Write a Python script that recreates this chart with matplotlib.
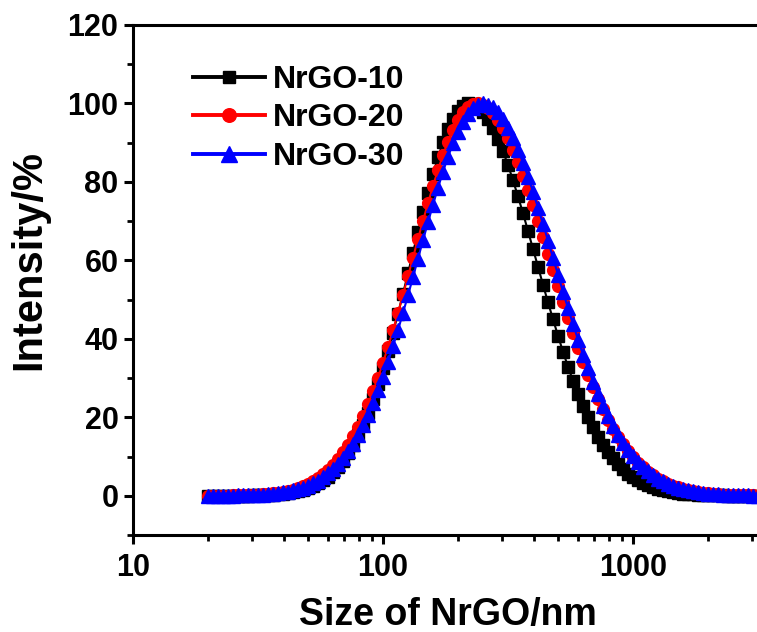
import matplotlib.pyplot as plt

# particle size (nm), same grid for all three samples
size_nm = [19.95, 20.89, 21.88, 22.91, 23.99, 25.12, 26.30, 27.54, 28.84, 30.20,
           31.62, 33.11, 34.67, 36.31, 38.02, 39.81, 41.69, 43.65, 45.71, 47.86,
           50.12, 52.48, 54.95, 57.54, 60.26, 63.10, 66.07, 69.18, 72.44, 75.86,
           79.43, 83.18, 87.10, 91.20, 95.50,
           100.0, 104.7, 109.6, 114.8, 120.2, 125.9, 131.8, 138.0, 144.5, 151.4,
           158.5, 166.0, 173.8, 182.0, 190.6, 199.5, 208.9, 218.8, 229.1, 239.9,
           251.2, 263.0, 275.4, 288.4, 302.0, 316.2, 331.1, 346.7, 363.1, 380.2,
           398.1, 416.9, 436.5, 457.1, 478.6, 501.2, 524.8, 549.5, 575.4, 602.6,
           631.0, 660.7, 691.8, 724.4, 758.6, 794.3, 831.8, 871.0, 912.0, 955.0,
           1000, 1047, 1096, 1148, 1202, 1259, 1318, 1380, 1445, 1514,
           1585, 1660, 1738, 1820, 1905, 1995, 2089, 2188, 2291, 2399,
           2512, 2630, 2754, 2884, 3020, 3162]

nrgo10 = [0.0, 0.0, 0.0, 0.01, 0.02, 0.02, 0.03, 0.04, 0.06, 0.08,
          0.12, 0.16, 0.22, 0.30, 0.40, 0.53, 0.70, 0.91, 1.19, 1.53,
          1.96, 2.49, 3.15, 3.94, 4.89, 6.04, 7.39, 8.98, 10.8, 12.9,
          15.4, 18.1, 21.2, 24.6, 28.4,
          32.5, 36.9, 41.5, 46.4, 51.5, 56.7, 62.0, 67.2, 72.4, 77.3,
          82.0, 86.3, 90.1, 93.4, 96.1, 98.1, 99.4, 100.0, 99.8, 99.1,
          97.9, 96.1, 93.8, 91.0, 87.8, 84.3, 80.4, 76.3, 72.0, 67.5,
          62.9, 58.4, 53.8, 49.3, 45.0, 40.8, 36.7, 32.9, 29.3, 26.0,
          22.9, 20.1, 17.5, 15.1, 13.0, 11.2, 9.50, 8.04, 6.77, 5.67,
          4.71, 3.90, 3.21, 2.63, 2.14, 1.73, 1.39, 1.11, 0.88, 0.70,
          0.55, 0.43, 0.33, 0.26, 0.20, 0.15, 0.12, 0.09, 0.07, 0.05,
          0.04, 0.03, 0.02, 0.02, 0.01, 0.01]

nrgo20 = [0.01, 0.02, 0.03, 0.04, 0.05, 0.07, 0.09, 0.12, 0.16, 0.21,
          0.28, 0.36, 0.47, 0.61, 0.78, 0.99, 1.25, 1.57, 1.96, 2.44,
          3.01, 3.69, 4.50, 5.46, 6.57, 7.87, 9.36, 11.1, 13.0, 15.2,
          17.6, 20.4, 23.3, 26.6, 30.1,
          33.9, 37.9, 42.2, 46.6, 51.2, 55.9, 60.7, 65.4, 70.1, 74.6,
          79.0, 83.1, 86.9, 90.3, 93.3, 95.8, 97.7, 99.1, 99.8, 100.0,
          99.6, 98.8, 97.5, 95.8, 93.7, 91.1, 88.2, 85.1, 81.6, 77.9,
          74.0, 70.0, 65.9, 61.7, 57.5, 53.4, 49.3, 45.3, 41.4, 37.7,
          34.2, 30.8, 27.7, 24.7, 22.0, 19.4, 17.1, 15.0, 13.1, 11.3,
          9.80, 8.43, 7.21, 6.14, 5.21, 4.39, 3.69, 3.08, 2.56, 2.12,
          1.75, 1.43, 1.17, 0.95, 0.77, 0.62, 0.49, 0.39, 0.31, 0.25,
          0.19, 0.15, 0.12, 0.09, 0.07, 0.05]

nrgo30 = [0.01, 0.02, 0.02, 0.03, 0.04, 0.06, 0.08, 0.10, 0.14, 0.18,
          0.24, 0.31, 0.40, 0.52, 0.67, 0.85, 1.07, 1.35, 1.69, 2.10,
          2.59, 3.18, 3.89, 4.72, 5.70, 6.83, 8.15, 9.66, 11.4, 13.3,
          15.5, 18.0, 20.7, 23.6, 26.9,
          30.3, 34.1, 38.1, 42.2, 46.6, 51.1, 55.7, 60.4, 65.1, 69.7,
          74.2, 78.5, 82.6, 86.4, 89.8, 92.8, 95.3, 97.4, 98.8, 99.7,
          100.0, 99.7, 99.0, 97.7, 96.0, 93.8, 91.2, 88.2, 84.9, 81.3,
          77.5, 73.4, 69.3, 65.0, 60.7, 56.3, 52.0, 47.8, 43.8, 39.8,
          36.0, 32.5, 29.1, 25.9, 23.0, 20.3, 17.8, 15.6, 13.5, 11.7,
          10.1, 8.62, 7.34, 6.22, 5.24, 4.39, 3.67, 3.04, 2.51, 2.06,
          1.69, 1.37, 1.11, 0.89, 0.72, 0.57, 0.45, 0.36, 0.28, 0.22,
          0.17, 0.13, 0.10, 0.08, 0.06, 0.04]

plt.rcParams['font.family'] = 'Liberation Sans'
plt.rcParams['font.weight'] = 'bold'

fig = plt.figure(figsize=(7.57, 6.32), dpi=100)
ax = fig.add_axes([133/757, (632-535)/632, (757-133)/757, (535-25)/632])

ax.plot(size_nm, nrgo10, '-s', color='black', ms=8, lw=1.5, label='NrGO-10')
ax.plot(size_nm, nrgo20, '-o', color='red', ms=8.5, lw=1.5, label='NrGO-20')
ax.plot(size_nm, nrgo30, '-^', color='blue', ms=9.5, lw=1.5, label='NrGO-30')

ax.set_xscale('log')
ax.set_xlim(10, 3133)
ax.set_ylim(-10, 120)
ax.set_yticks([0, 20, 40, 60, 80, 100, 120])
ax.set_yticks(range(-10, 120, 20), minor=True)
ax.set_xticks([10, 100, 1000])
ax.set_xticklabels(['10', '100', '1000'])

for s in ['left', 'bottom', 'top']:
    ax.spines[s].set_linewidth(2.2)
ax.spines['right'].set_visible(False)
ax.tick_params(which='major', length=6.5, width=2.2, labelsize=22)
ax.tick_params(which='minor', length=4, width=2)
ax.tick_params(axis='x', which='major', pad=6.5)
ax.tick_params(axis='y', which='major', pad=4)
ax.tick_params(top=False, right=False, which='both')

ax.set_xlabel('Size of NrGO/nm', fontsize=27, fontweight='bold')
ax.xaxis.set_label_coords(0.505, -0.121)
ax.set_ylabel('Intensity/%', fontsize=30, fontweight='bold')
ax.yaxis.set_label_coords(-0.135, 0.54)

leg = ax.legend(loc='upper left', bbox_to_anchor=(0.096, 0.922), frameon=False,
                fontsize=23, handlelength=2.25, labelspacing=0.27,
                handletextpad=0.25, borderpad=0, borderaxespad=0,
                markerscale=1.15)
for h in leg.get_lines():
    h.set_linewidth(2.8)

fig.savefig('out.png', dpi=100)
